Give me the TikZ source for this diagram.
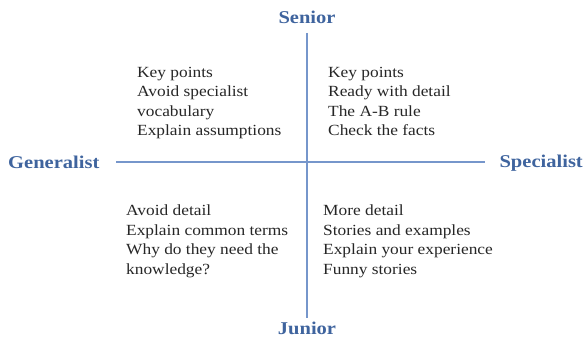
\documentclass[tikz,border=0pt]{standalone}
\usepackage{fontspec}
\setmainfont{Liberation Serif}
\newfontfamily\quadfont[FakeStretch=1.12]{Liberation Serif}
\newfontfamily\titlefont[FakeStretch=1.14]{Liberation Serif}
\usepackage{tikz}
\usetikzlibrary{positioning}
\definecolor{axisblue}{RGB}{63,100,158}
\definecolor{lineblue}{RGB}{118,150,203}

\begin{document}
\begin{tikzpicture}[x=1pt,y=-1pt,
    axislabel/.style={font=\titlefont\fontsize{18}{20}\selectfont\bfseries, text=axisblue, inner sep=0pt},
    quadtext/.style={font=\quadfont\fontsize{15.5}{19.5}\selectfont, align=left, anchor=north west, inner sep=0pt, text=black!85}]
    \useasboundingbox (0,0) rectangle (585,339);
    % axis labels
    \node[axislabel] (senior) at (307,17) {Senior};
    \node[axislabel] (junior) at (307,328) {Junior};
    \node[axislabel, anchor=west] (generalist) at (8,162) {Generalist};
    \node[axislabel, anchor=east] (specialist) at (583,163) {Specialist};
    \coordinate (top) at (307,33);
    \coordinate (bottom) at (307,318);
    \coordinate (left) at (116,162);
    \coordinate (right) at (485,162);
    % axes
    \draw[lineblue, line width=1.1pt] (top) -- (bottom);
    \draw[lineblue, line width=1.1pt] (left) -- (right);
    % quadrants
    \node[quadtext] (seniorgen) at (137,67) {Key points\\Avoid specialist\\vocabulary\\Explain assumptions};
    \node[quadtext] (seniorspec) at (328,67) {Key points\\Ready with detail\\The A-B rule\\Check the facts};
    \node[quadtext] (juniorgen) at (126,205) {Avoid detail\\Explain common terms\\Why do they need the\\knowledge?};
    \node[quadtext] (juniorspec) at (323,205) {More detail\\Stories and examples\\Explain your experience\\Funny stories};
\end{tikzpicture}
\end{document}
